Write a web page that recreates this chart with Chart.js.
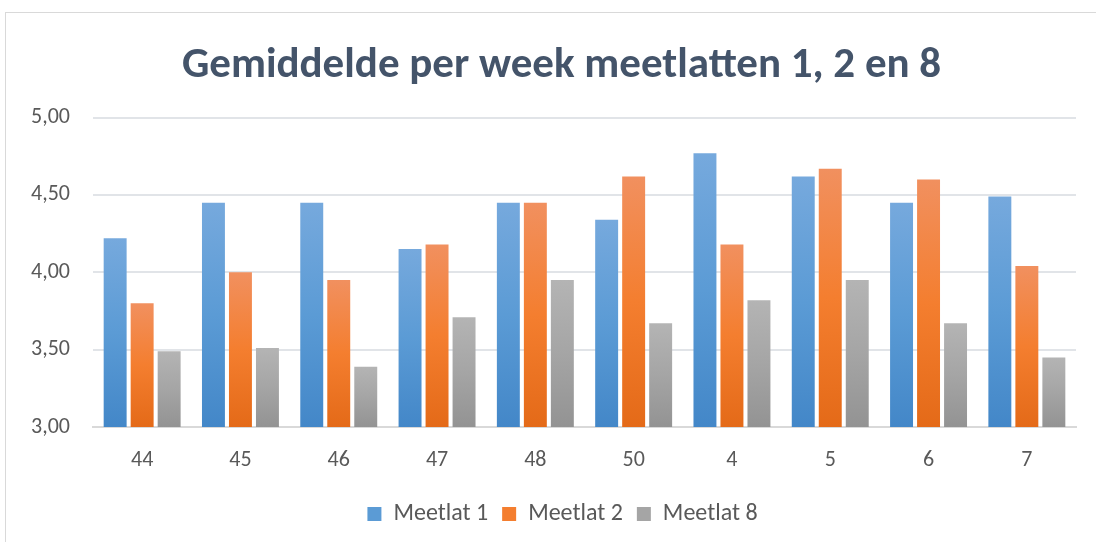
<!DOCTYPE html>
<html>
<head>
<meta charset="utf-8">
<script src="https://cdn.jsdelivr.net/npm/chart.js@4/dist/chart.umd.min.js"></script>
<style>
  html, body { margin: 0; padding: 0; background: #fff; }
  #frame { position: absolute; left: 5px; top: 12px; width: 1100px; height: 540px; border: 1px solid #d9d9d9; }
  #wrap { position: absolute; left: 0; top: 0; width: 1096px; height: 542px; }
</style>
</head>
<body>
<div id="frame"></div>
<div id="wrap"><canvas id="c" width="1096" height="542"></canvas></div>
<script>
const categories = ["44", "45", "46", "47", "48", "50", "4", "5", "6", "7"];
const meetlat1 = [4.22, 4.45, 4.45, 4.15, 4.45, 4.34, 4.77, 4.62, 4.45, 4.49];
const meetlat2 = [3.80, 4.00, 3.95, 4.18, 4.45, 4.62, 4.18, 4.67, 4.60, 4.04];
const meetlat8 = [3.49, 3.51, 3.39, 3.71, 3.95, 3.67, 3.82, 3.95, 3.67, 3.45];
const seriesNames = ["Meetlat 1", "Meetlat 2", "Meetlat 8"];
const yTicks = [3.0, 3.5, 4.0, 4.5, 5.0];

const FONT = "Carlito, Lato, 'Liberation Sans', sans-serif";
const palettes = [
  { top: "#76a9dd", bottom: "#4387c8", solid: "#5b9bd5" },
  { top: "#f1905f", bottom: "#e46a18", solid: "#f47e2f" },
  { top: "#b4b4b4", bottom: "#939393", solid: "#a5a5a5" }
];

function barGradient(ctx, idx) {
  const chart = ctx.chart;
  const p = palettes[idx];
  const ys = chart.scales && chart.scales.y;
  if (!ys || ctx.type !== 'data' || ctx.parsed == null) return p.solid;
  const yTop = ys.getPixelForValue(ctx.parsed.y);
  const yBot = ys.getPixelForValue(ys.min);
  if (!isFinite(yTop) || !isFinite(yBot) || yTop === yBot) return p.solid;
  const g = chart.ctx.createLinearGradient(0, yTop, 0, yBot);
  g.addColorStop(0, p.top);
  g.addColorStop(0.5, p.solid);
  g.addColorStop(1, p.bottom);
  return g;
}

const datasets = [meetlat1, meetlat2, meetlat8].map((d, i) => ({
  label: seriesNames[i],
  data: d,
  backgroundColor: (ctx) => barGradient(ctx, i),
  borderWidth: 0,
  categoryPercentage: 0.824,
  barPercentage: 0.85
}));

// shift title and legend so they are centred on the frame like the reference
const blockShift = {
  id: 'blockShift',
  afterLayout(chart) {
    const t = chart.titleBlock;
    if (t) { t.left += 12; t.right += 12; }
    const l = chart.legend;
    if (l) { l.left += 13; l.right += 13; }
  }
};

new Chart(document.getElementById('c'), {
  type: 'bar',
  data: { labels: categories, datasets },
  plugins: [blockShift],
  options: {
    responsive: false,
    animation: false,
    layout: { padding: { top: 40, left: 23, right: 20, bottom: 6 } },
    plugins: {
      title: {
        display: true,
        text: "Gemiddelde per week meetlatten 1, 2 en 8",
        color: "#44546a",
        font: { family: FONT, size: 43, weight: 'bold' },
        padding: { top: 0, bottom: 26 }
      },
      legend: {
        position: 'bottom',
        labels: {
          color: "#595959",
          font: { family: FONT, size: 24 },
          boxWidth: 14,
          boxHeight: 14,
          padding: 14,
          generateLabels: (chart) => seriesNames.map((n, i) => ({
            text: n,
            fillStyle: palettes[i].solid,
            strokeStyle: palettes[i].solid,
            lineWidth: 0,
            fontColor: "#595959",
            datasetIndex: i,
            hidden: false
          }))
        }
      },
      tooltip: { enabled: false }
    },
    scales: {
      x: {
        afterFit: (axis) => { axis.height = 61; },
        grid: { display: false, drawTicks: false },
        border: { display: true, color: "#d9d9d9", width: 2 },
        ticks: { color: "#595959", font: { family: FONT, size: 22 }, padding: 20 }
      },
      y: {
        min: 3, max: 5,
        afterBuildTicks: (axis) => { axis.ticks = yTicks.map(v => ({ value: v })); },
        afterFit: (axis) => { axis.width = 70; },
        grid: { color: "#e1e4e8", lineWidth: 2, drawTicks: false },
        border: { display: false },
        ticks: {
          color: "#595959",
          font: { family: FONT, size: 22 },
          padding: 23,
          callback: (v) => Number(v).toFixed(2).replace('.', ',')
        }
      }
    }
  }
});
</script>
</body>
</html>
